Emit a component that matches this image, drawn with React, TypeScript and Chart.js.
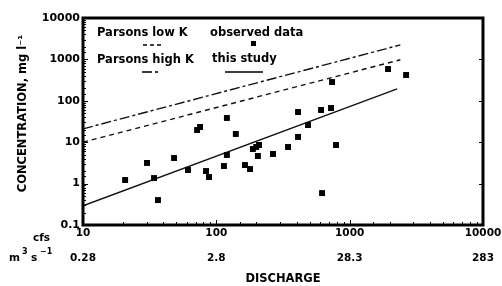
import React, { useEffect, useRef } from 'react';
import { Chart, registerables } from 'chart.js';
Chart.register(...registerables);

// Axis tick labels
const xTickLabels = ['10', '100', '1000', '10000'];
const xMetricLabels = ['0.28', '2.8', '28.3', '283'];
const yTickLabels = ['0.1', '1', '10', '100', '1000', '10000'];

// Observed data: discharge (cfs) and concentration (mg/l)
const observedQ = [20.7, 30.2, 34.1, 36.5, 48.2, 61.3, 71.7, 75.5, 83.7, 88.1, 120, 140, 114, 120, 164, 179, 188, 199, 209, 205, 266, 345, 410, 410, 487, 610, 621, 725, 738, 790, 1940, 2650];
const observedC = [1.22, 3.15, 1.36, 0.40, 4.15, 2.13, 19.7, 23.3, 2.01, 1.44, 38.5, 15.8, 2.66, 4.91, 2.81, 2.25, 6.85, 7.66, 8.56, 4.64, 5.19, 7.66, 53.6, 13.4, 26, 60, 0.59, 67, 284, 8.56, 586, 420];

// Lines (end points in log-log space)
const parsonsQ = [10, 2400];
const parsonsHighC = [21, 2240];
const parsonsLowC = [10, 980];
const studyQ = [10, 2270];
const thisStudyC = [0.29, 194];

const FONT = '"DejaVu Sans", Arial, sans-serif';

function decadeIndex(v: number, minExp: number): number {
  const l = Math.log10(v);
  if (Math.abs(l - Math.round(l)) > 1e-6) return -1;
  return Math.round(l) - minExp;
}

const framePlugin = {
  id: 'frame',
  afterDraw(chart: any) {
    const { ctx, chartArea: a, scales } = chart;
    ctx.save();
    ctx.strokeStyle = '#000';
    // inward ticks
    ctx.lineWidth = 1;
    const xs = scales.x, ys = scales.y;
    xs.ticks.forEach((t: any) => {
      const px = Math.round(xs.getPixelForValue(t.value)) + 0.5;
      const major = decadeIndex(t.value, 1) >= 0;
      const len = major ? 5 : 3;
      ctx.beginPath();
      ctx.moveTo(px, a.bottom);
      ctx.lineTo(px, a.bottom - len);
      ctx.stroke();
    });
    ys.ticks.forEach((t: any) => {
      const py = Math.round(ys.getPixelForValue(t.value)) + 0.5;
      const major = decadeIndex(t.value, -1) >= 0;
      const len = major ? 5 : 3;
      ctx.beginPath();
      ctx.moveTo(a.left, py);
      ctx.lineTo(a.left + len, py);
      ctx.stroke();
      if (major) {
        ctx.beginPath();
        ctx.moveTo(a.right, py);
        ctx.lineTo(a.right - 4, py);
        ctx.stroke();
      }
    });
    // frame
    ctx.lineWidth = 3;
    ctx.strokeRect(a.left, a.top, a.right - a.left, a.bottom - a.top);

    // legend
    ctx.fillStyle = '#000';
    ctx.textBaseline = 'middle';
    ctx.textAlign = 'left';
    ctx.font = `bold 11.5px ${FONT}`;
    ctx.fillText('Parsons low K', 97, 33);
    ctx.fillText('Parsons high K', 97, 60);
    ctx.fillText('observed data', 210, 33);
    ctx.fillText('this study', 212, 59);
    ctx.lineWidth = 1.4;
    ctx.setLineDash([4, 3]);
    ctx.beginPath(); ctx.moveTo(143, 45); ctx.lineTo(164, 45); ctx.stroke();
    ctx.setLineDash([10, 3, 3, 3]);
    ctx.beginPath(); ctx.moveTo(142, 72); ctx.lineTo(159, 72); ctx.stroke();
    ctx.setLineDash([]);
    ctx.beginPath(); ctx.moveTo(225, 72); ctx.lineTo(263, 72); ctx.stroke();
    ctx.fillRect(251, 41, 5, 5);

    // unit labels
    ctx.font = `bold 10.5px ${FONT}`;
    ctx.textAlign = 'left';
    ctx.fillText('cfs', 33, 238);
    ctx.fillText('m', 9, 258);
    ctx.fillText('s', 31, 258);
    ctx.font = `bold 8px ${FONT}`;
    ctx.fillText('3', 22, 252);
    ctx.fillText('\u22121', 40, 252);
    ctx.restore();
  },
};

export default function App() {
  const ref = useRef<HTMLCanvasElement | null>(null);
  useEffect(() => {
    if (!ref.current) return;
    const chart = new Chart(ref.current, {
      type: 'scatter',
      data: {
        datasets: [
          {
            label: 'observed data',
            data: observedQ.map((q, i) => ({ x: q, y: observedC[i] })),
            pointStyle: 'rect',
            pointRadius: 4.2,
            backgroundColor: '#000',
            borderWidth: 0,
          },
          {
            type: 'line',
            label: 'Parsons high K',
            data: parsonsQ.map((q, i) => ({ x: q, y: parsonsHighC[i] })),
            borderColor: '#111',
            borderWidth: 1.4,
            borderDash: [10, 3, 3, 3],
            pointRadius: 0,
            fill: false,
          },
          {
            type: 'line',
            label: 'Parsons low K',
            data: parsonsQ.map((q, i) => ({ x: q, y: parsonsLowC[i] })),
            borderColor: '#111',
            borderWidth: 1.4,
            borderDash: [5, 4],
            pointRadius: 0,
            fill: false,
          },
          {
            type: 'line',
            label: 'this study',
            data: studyQ.map((q, i) => ({ x: q, y: thisStudyC[i] })),
            borderColor: '#111',
            borderWidth: 1.4,
            pointRadius: 0,
            fill: false,
          },
        ],
      } as any,
      options: {
        responsive: false,
        animation: false,
        devicePixelRatio: 1,
        layout: { padding: { left: 0, right: 19, top: 18, bottom: 0 } },
        plugins: { legend: { display: false }, tooltip: { enabled: false } },
        scales: {
          x: {
            type: 'logarithmic',
            min: 10,
            max: 10000,
            grid: { display: false, drawTicks: false },
            border: { display: false },
            afterFit: (s: any) => { s.height = 61; },
            ticks: {
              autoSkip: false,
              maxRotation: 0,
              padding: -4.5,
              color: '#000',
              font: { family: FONT, size: 10.5, weight: 'bold', lineHeight: '25px' },
              callback: (v: any) => {
                const i = decadeIndex(Number(v), 1);
                return i >= 0 ? [xTickLabels[i], xMetricLabels[i]] : '';
              },
            },
            title: {
              display: true,
              text: 'DISCHARGE',
              color: '#000',
              font: { family: FONT, size: 11.5, weight: 'bold' },
              padding: { top: 0, bottom: 0 },
            },
          },
          y: {
            type: 'logarithmic',
            min: 0.1,
            max: 10000,
            grid: { display: false, drawTicks: false },
            border: { display: false },
            afterFit: (s: any) => { s.width = 83; },
            ticks: {
              autoSkip: false,
              padding: 3,
              color: '#000',
              font: { family: FONT, size: 11, weight: 'bold' },
              callback: (v: any) => {
                const i = decadeIndex(Number(v), -1);
                return i >= 0 ? yTickLabels[i] : '';
              },
            },
            title: {
              display: true,
              text: '\u00A0\u00A0\u00A0\u00A0CONCENTRATION, mg l\u207B\u00B9',
              color: '#000',
              font: { family: FONT, size: 11.5, weight: 'bold' },
              padding: { top: 16, bottom: 0 },
            },
          },
        },
      } as any,
      plugins: [framePlugin],
    });
    return () => chart.destroy();
  }, []);
  return (
    <div style={{ position: 'absolute', left: 0, top: 0, width: 502, height: 286, background: '#fff' }}>
      <canvas ref={ref} width={502} height={286} style={{ display: 'block' }} />
    </div>
  );
}
